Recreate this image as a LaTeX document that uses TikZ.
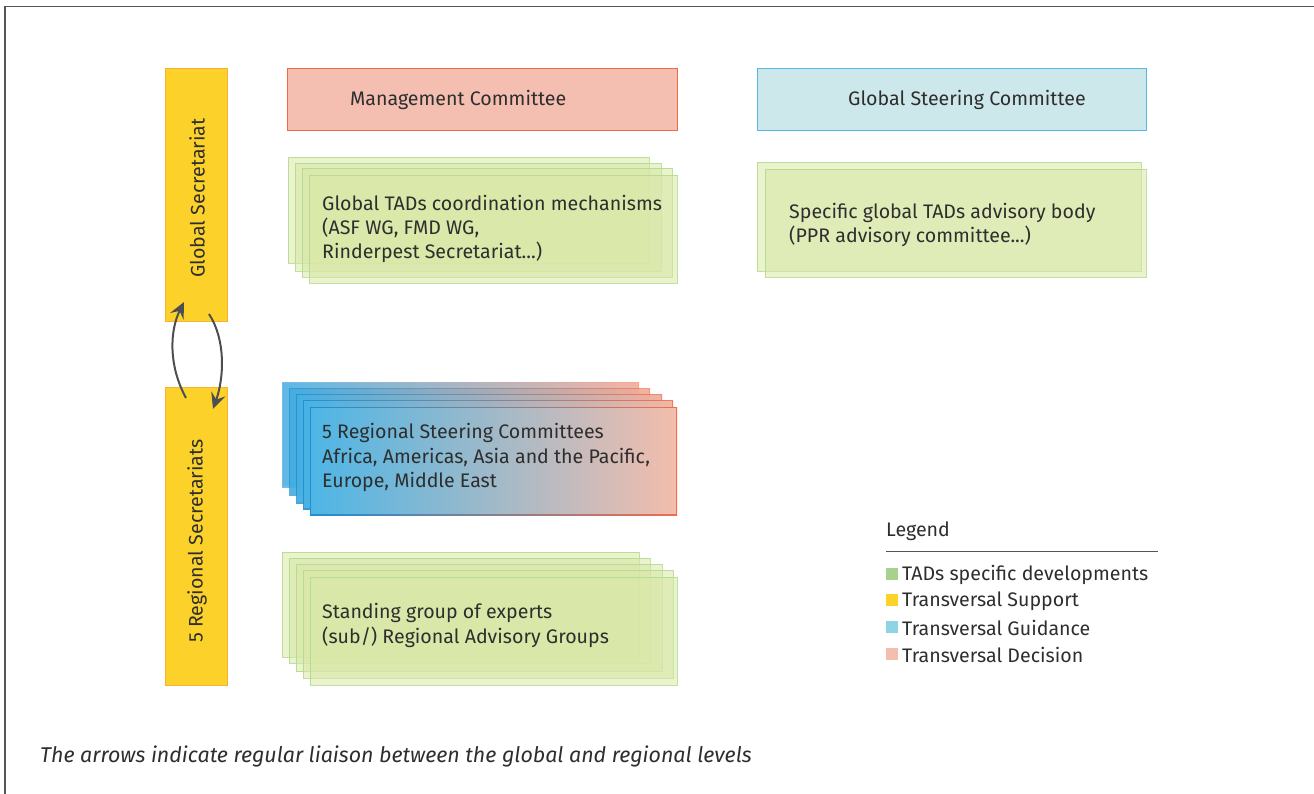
\documentclass[tikz,border=0pt]{standalone}
\usepackage{fontspec}
\setmainfont{Fira Sans}
\usetikzlibrary{arrows.meta}
\definecolor{txt}{HTML}{2E2E2E}
\definecolor{frame}{HTML}{555555}
\definecolor{yel}{HTML}{FCD22A}
\definecolor{yelb}{HTML}{F8B133}
\definecolor{mgf}{HTML}{F4BFB0}
\definecolor{mgd}{HTML}{F26A45}
\definecolor{gsf}{HTML}{CCE8EB}
\definecolor{gsd}{HTML}{55B8E6}
\definecolor{grf}{HTML}{D8E7A6}
\definecolor{grd}{HTML}{AFD98A}
\definecolor{blu}{HTML}{2EA9E1}
\definecolor{blud}{HTML}{1E8FD2}
\definecolor{pnk}{HTML}{F3BDAC}
\definecolor{pnkd}{HTML}{EF6E4E}
\definecolor{arr}{HTML}{4D4E52}
\definecolor{lg}{HTML}{A9D18E}
\definecolor{ly}{HTML}{FDD32A}
\definecolor{lb}{HTML}{8ED3E6}
\definecolor{lp}{HTML}{F4BEAE}
\newcommand{\lblfont}{\fontsize{19.6}{24.3}\selectfont}
\tikzset{
  lbl/.style={font=\lblfont, text=txt, inner sep=0pt, align=left, anchor=west},
  greenbox/.style={fill=grf, fill opacity=0.55, draw=grd, draw opacity=0.8, line width=0.8pt},
  yelbox/.style={fill=yel, draw=yelb, line width=0.8pt},
  liaison/.style={draw=arr, line width=2pt, -{Stealth[length=16pt,width=15pt,inset=6pt]}},
  legsq/.style={minimum width=12pt, minimum height=12pt, inner sep=0pt, anchor=west},
}
\begin{document}
\begin{tikzpicture}[x=1pt,y=-1pt]
\useasboundingbox (0,0) rectangle (1314,794);
% frame
\draw[frame, line width=1.2pt] (5,794) -- (5,6.5) -- (1314,6.5);

% yellow bars
\path[yelbox] (165,68) rectangle (227,321);
\node[rotate=90, font=\lblfont, text=txt] (gsec) at (197,198) {Global Secretariat};
\path[yelbox] (165,387) rectangle (227,685);
\node[rotate=90, font=\lblfont, text=txt] (rsec) at (197,541) {5 Regional Secretariats};

% liaison arrows
\coordinate (a1s) at (186,398);
\coordinate (a1e) at (184,302);
\coordinate (a2s) at (209,314);
\coordinate (a2e) at (213,409);
\draw[liaison] (a1s) .. controls (168,365) and (170,330) .. (a1e);
\draw[liaison] (a2s) .. controls (226,340) and (224,378) .. (a2e);

% management committee
\draw[fill=mgf, draw=mgd, line width=0.9pt] (287,68.5) rectangle (677,130.5);
\node[lbl] (mc) at (350,100) {Management Committee};

% global steering committee
\draw[fill=gsf, draw=gsd, line width=0.9pt] (757,68.5) rectangle (1146,130.5);
\node[lbl] (gsc) at (848,100) {Global Steering Committee};

% global TADs stack
\path[greenbox] (288,157) rectangle (649,263);
\path[greenbox] (295,163) rectangle (661,271);
\path[greenbox] (302,168.5) rectangle (672,277.5);
\path[greenbox] (309,175) rectangle (677,283);
\node[lbl] (gtads) at (322,229) {Global TADs coordination mechanisms\\(ASF WG, FMD WG,\\Rinderpest Secretariat...)};

% specific global TADs advisory body
\path[greenbox] (757,162.5) rectangle (1141,271.5);
\path[greenbox] (765,169) rectangle (1146,277.5);
\node[lbl] (sgtab) at (789,225) {Specific global TADs advisory body\\(PPR advisory committee...)};

% regional steering committees stack
\foreach \l/\t/\r/\b/\o in {282/382/639/487/0.6, 289/388/650/495/0.7, 296/394/662/503/0.8, 303/400/673/509/0.9, 310/407/677/515/1}{
  \shade[left color=blud, right color=pnkd, opacity=\o] (\l,\t) rectangle (\r,\b);
  \shade[left color=blu!85!white, right color=pnk, opacity=\o] (\l+1.2,\t+1.2) rectangle (\r-1.2,\b-1.2);
}
\node[lbl] (rsc) at (322,457.5) {5 Regional Steering Committees\\Africa, Americas, Asia and the Pacific,\\Europe, Middle East};

% standing group of experts stack
\path[greenbox] (282,552) rectangle (639,657);
\path[greenbox] (289,558) rectangle (650,663);
\path[greenbox] (296,564) rectangle (662,671.5);
\path[greenbox] (303,570) rectangle (673,678);
\path[greenbox] (310,577) rectangle (677,685);
\node[lbl] (sge) at (322,625.5) {Standing group of experts\\(sub/) Regional Advisory Groups};

% legend
\node[lbl] (legt) at (886,531.5) {Legend};
\coordinate (legl) at (886,551);
\coordinate (legr) at (1158,551);
\draw[frame, line width=1pt] (legl) -- (legr);
\node[legsq, fill=lg] (sq1) at (886,574) {};
\node[lbl] (l1) at (902,575) {TADs specific developments};
\node[legsq, fill=ly] (sq2) at (886,600) {};
\node[lbl] (l2) at (902,601) {Transversal Support};
\node[legsq, fill=lb] (sq3) at (886,627) {};
\node[lbl] (l3) at (902,628) {Transversal Guidance};
\node[legsq, fill=lp] (sq4) at (886,654) {};
\node[lbl] (l4) at (902,655) {Transversal Decision};

% caption
\node[lbl, font=\fontsize{21.4}{24}\selectfont\itshape] (cap) at (40,756) {The arrows indicate regular liaison between the global and regional levels};
\end{tikzpicture}
\end{document}
